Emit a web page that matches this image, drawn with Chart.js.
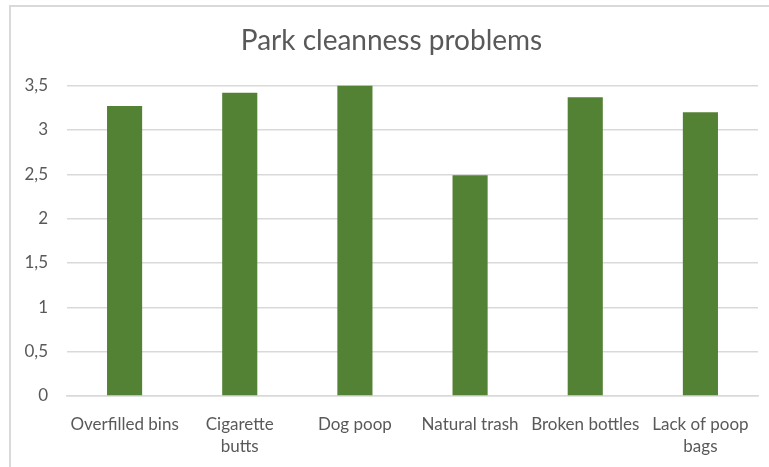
<!DOCTYPE html>
<html>
<head>
<meta charset="utf-8">
<script src="https://cdn.jsdelivr.net/npm/chart.js@4"></script>
<style>
  html, body { margin: 0; padding: 0; background: #fff; overflow: hidden; }
  #wrap { position: absolute; left: 0; top: 0; width: 769px; height: 467px; }
  #frame { position: absolute; left: 9px; top: 5px; width: 800px; height: 500px;
           border-left: 2px solid #d9d9d9; border-top: 2px solid #d9d9d9; pointer-events: none; }
</style>
</head>
<body>
<div id="wrap"><canvas id="barChart" width="769" height="467"></canvas></div>
<div id="frame"></div>
<script>
const categories = [
  "Overfilled bins",
  ["Cigarette", "butts"],
  "Dog poop",
  "Natural trash",
  "Broken bottles",
  ["Lack of poop", "bags"],
];
const scores = [3.27, 3.42, 3.5, 2.49, 3.37, 3.2];

const textColor = "#595959";
const fontName = "Lato, 'Open Sans', sans-serif";

const ctx = document.getElementById("barChart").getContext("2d");
const chart = new Chart(ctx, {
  type: "bar",
  data: {
    labels: categories,
    datasets: [
      {
        label: "Park cleanness problems",
        data: scores,
        backgroundColor: "#548235",
        categoryPercentage: 1,
        barPercentage: 0.305,
      },
    ],
  },
  options: {
    responsive: false,
    animation: false,
    layout: {
      padding: { top: 0, bottom: 0, left: 25, right: 11 },
    },
    plugins: {
      legend: { display: false },
      tooltip: { enabled: false },
      title: {
        display: true,
        text: "Park cleanness problems",
        color: textColor,
        font: { family: fontName, size: 28, weight: "normal" },
        padding: { top: 24, bottom: 28 },
      },
    },
    scales: {
      x: {
        grid: { display: false, drawTicks: false },
        border: { color: "#d9d9d9", width: 1.5 },
        ticks: {
          color: textColor,
          font: { family: fontName, size: 17, lineHeight: 1.3 },
          padding: 17,
          maxRotation: 0,
          autoSkip: false,
        },
        afterFit: (s) => { s.height = 71; },
      },
      y: {
        min: 0,
        max: 3.5,
        grid: { color: "#d9d9d9", lineWidth: 1.5, drawTicks: false },
        border: { display: false },
        ticks: {
          stepSize: 0.5,
          color: textColor,
          font: { family: fontName, size: 17 },
          padding: 19,
          callback: (v) => String(v).replace(".", ","),
        },
        afterFit: (s) => { s.width = 42; },
      },
    },
  },
});
</script>
</body>
</html>
